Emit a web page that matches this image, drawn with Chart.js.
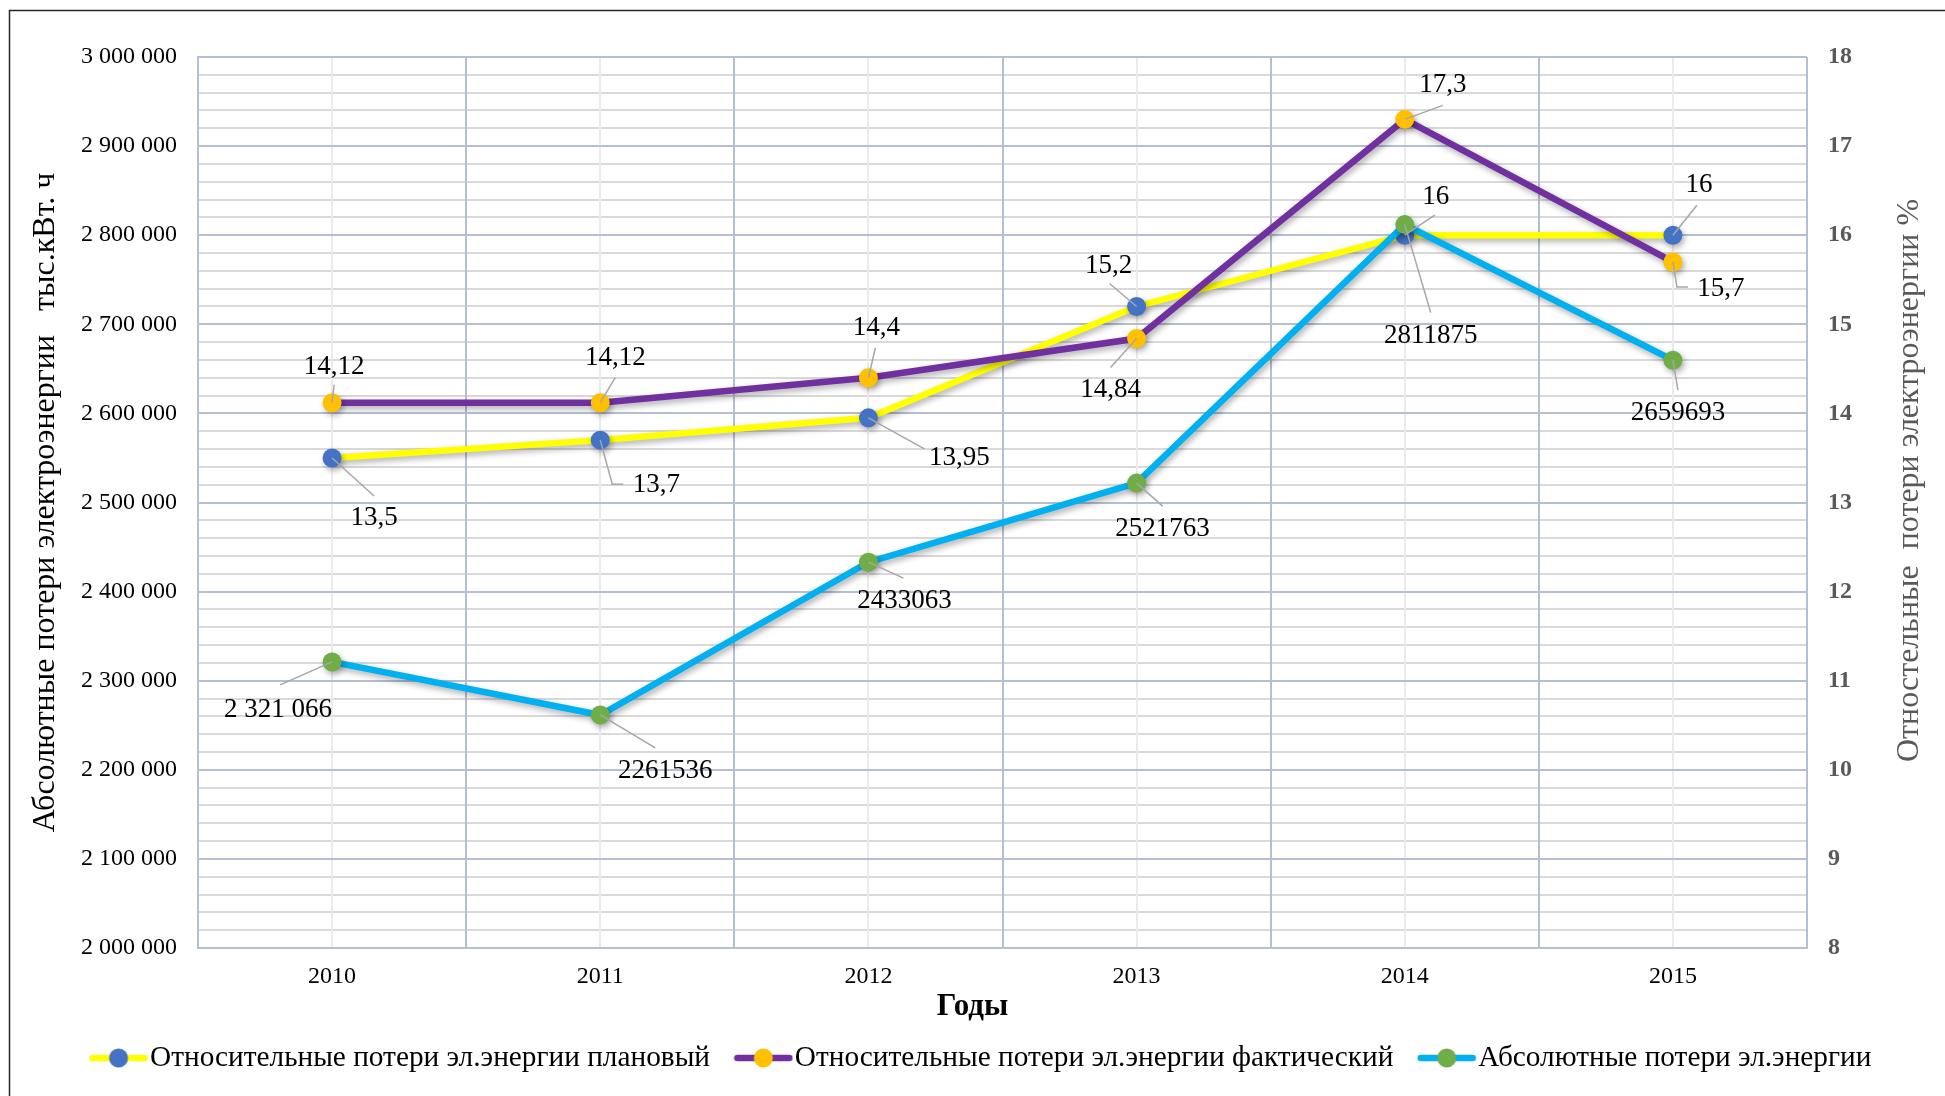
<!DOCTYPE html>
<html><head><meta charset="utf-8">
<script src="https://cdn.jsdelivr.net/npm/chart.js@4.4.0/dist/chart.umd.min.js"></script>
<style>html,body{margin:0;padding:0;background:#fff;overflow:hidden}canvas{display:block}</style>
</head><body>
<canvas id="c" width="1945" height="1096"></canvas>
<script>
// ---- data ----
const years = ['2010', '2011', '2012', '2013', '2014', '2015'];
const planRel = [13.5, 13.7, 13.95, 15.2, 16, 16];
const factRel = [14.12, 14.12, 14.4, 14.84, 17.3, 15.7];
const absLoss = [2321066, 2261536, 2433063, 2521763, 2811875, 2659693];
const seriesNames = ['Относительные потери эл.энергии плановый', 'Относительные потери эл.энергии фактический', 'Абсолютные потери эл.энергии'];
const absAxisMin = 2000000, absAxisMax = 3000000, absAxisStep = 100000, absMinorStep = 20000;
const relAxisMin = 8, relAxisMax = 18, relAxisStep = 1;
const xTitle = 'Годы';
const leftTitle = 'Абсолютные потери электроэнергии\u00A0\u00A0\u00A0тыс.кВт. ч';
const rightTitle = 'Отностельные\u00A0\u00A0потери электроэнергии %';

// ---- label placement (pixel offsets from each point: label centre d, leader polyline l) ----
const planLabelPos = [
  {d:[42,60], l:[[42,38]]}, {d:[56,45], l:[[12,44],[23,44]]}, {d:[91,40], l:[[56,31]]},
  {d:[-28,-41], l:[[-27,-23]]}, {d:[31,-38], l:[[30,-20]]}, {d:[26,-50], l:[[24,-30]]}];
const factLabelPos = [
  {d:[2,-36], l:[[2,-18]]}, {d:[15,-45], l:[[15,-25]]}, {d:[8,-50], l:[[7,-30]]},
  {d:[-26,51], l:[[-26,29]]}, {d:[38,-34], l:[[38,-14]]}, {d:[48,27], l:[[4,25],[15,25]]}];
const absLabelPos = [
  {d:[-54,48], l:[[-52,23]], g:true}, {d:[65,56], l:[[55,33]]}, {d:[36,39], l:[[35,16]]},
  {d:[26,46], l:[[26,23]]}, {d:[26,111], l:[[26,88]]}, {d:[5,53], l:[[5,30]]}];

const FAM = '"Liberation Serif","Times New Roman",serif';
Chart.defaults.font.family = FAM;
const MAJOR = '#b4bfd1', MINOR = '#d9d9d9', CENTER = '#ebebeb';

function groupDigits(v){ return String(v).replace(/\B(?=(\d{3})+(?!\d))/g, '\u00A0'); }
function relText(v){ return String(v).replace('.', ','); }

function makeIcon(lineColor, dotColor){
  const c = document.createElement('canvas'); c.width = 60; c.height = 22;
  const x = c.getContext('2d');
  x.strokeStyle = lineColor; x.lineWidth = 6.5; x.lineCap = 'round';
  x.beginPath(); x.moveTo(4,11); x.lineTo(56,11); x.stroke();
  x.fillStyle = dotColor; x.beginPath(); x.arc(30,11,9.5,0,Math.PI*2); x.fill();
  return c;
}
const icons = [makeIcon('#FFFF00','#4472C4'), makeIcon('#7030A0','#FFC000'), makeIcon('#00B0F0','#70AD47')];

const bgGrid = {
  id:'bgGrid',
  beforeDraw(chart){
    const {ctx, chartArea:a, scales} = chart;
    ctx.save();
    ctx.lineWidth = 2;
    ctx.strokeStyle = MINOR;
    for (let v = absAxisMin; v <= absAxisMax; v += absMinorStep){
      if (v % absAxisStep === 0) continue;
      const y = Math.round(scales.y.getPixelForValue(v));
      ctx.beginPath(); ctx.moveTo(a.left, y); ctx.lineTo(a.right, y); ctx.stroke();
    }
    ctx.strokeStyle = CENTER;
    years.forEach((yr, i) => {
      const x = Math.round(scales.x.getPixelForValue(i));
      ctx.beginPath(); ctx.moveTo(x, a.top); ctx.lineTo(x, a.bottom); ctx.stroke();
    });
    ctx.restore();
  }
};

const shadow = {
  id:'shadow',
  beforeDatasetDraw(chart){ const c = chart.ctx; c.save(); c.shadowColor='rgba(0,0,0,0.33)'; c.shadowBlur=6; c.shadowOffsetX=2; c.shadowOffsetY=3; },
  afterDatasetDraw(chart){ chart.ctx.restore(); }
};

const dataLabels = {
  id:'dataLabels',
  afterDatasetsDraw(chart){
    const ctx = chart.ctx;
    const conf = [planLabelPos, factLabelPos, absLabelPos];
    const fmt = [relText, relText, null];
    ctx.save();
    chart.data.datasets.forEach((ds, di) => {
      const meta = chart.getDatasetMeta(di);
      meta.data.forEach((el, j) => {
        const p = conf[di][j];
        ctx.strokeStyle = '#a6a6a6'; ctx.lineWidth = 1.5;
        ctx.beginPath(); ctx.moveTo(el.x, el.y);
        p.l.forEach(q => ctx.lineTo(el.x + q[0], el.y + q[1]));
        ctx.stroke();
        const v = ds.data[j];
        const txt = fmt[di] ? fmt[di](v) : (p.g ? groupDigits(v) : String(v));
        ctx.fillStyle = '#000'; ctx.font = '27px ' + FAM;
        ctx.textAlign = 'center'; ctx.textBaseline = 'middle';
        ctx.fillText(txt, el.x + p.d[0], el.y + p.d[1]);
      });
    });
    ctx.restore();
  }
};

const frame = {
  id:'frame',
  afterDraw(chart){
    const {ctx, chartArea:a} = chart;
    ctx.save();
    ctx.strokeStyle = '#262626'; ctx.lineWidth = 1.5;
    ctx.beginPath(); ctx.moveTo(9.5, chart.height); ctx.lineTo(9.5, 10.5); ctx.lineTo(chart.width, 10.5); ctx.stroke();
    // x axis title, centred on the whole chart as in the source
    ctx.fillStyle = '#000'; ctx.font = 'bold 31px ' + FAM;
    ctx.textAlign = 'center'; ctx.textBaseline = 'middle';
    ctx.fillText(xTitle, chart.width / 2, a.bottom + 59);
    // right axis title (reads bottom-to-top)
    ctx.fillStyle = '#595959'; ctx.font = '32px ' + FAM;
    ctx.translate(a.right + 103, (a.top + a.bottom) / 2 - 22);
    ctx.rotate(-Math.PI / 2);
    ctx.fillText(rightTitle, 0, 0);
    ctx.restore();
  }
};

new Chart(document.getElementById('c'), {
  type:'line',
  data:{
    labels: years,
    datasets:[
      {label: seriesNames[0], data: planRel, yAxisID:'yR', order:3, borderColor:'#FFFF00', backgroundColor:'#4472C4', pointBackgroundColor:'#4472C4', pointBorderColor:'#4472C4', borderWidth:6.5, pointRadius:9.5, pointBorderWidth:0, tension:0},
      {label: seriesNames[1], data: factRel, yAxisID:'yR', order:2, borderColor:'#7030A0', backgroundColor:'#FFC000', pointBackgroundColor:'#FFC000', pointBorderColor:'#FFC000', borderWidth:6.5, pointRadius:9.5, pointBorderWidth:0, tension:0},
      {label: seriesNames[2], data: absLoss, yAxisID:'y', order:1, borderColor:'#00B0F0', backgroundColor:'#70AD47', pointBackgroundColor:'#70AD47', pointBorderColor:'#70AD47', borderWidth:6.5, pointRadius:9.5, pointBorderWidth:0, tension:0}
    ]
  },
  options:{
    responsive:false, animation:false, devicePixelRatio:1,
    layout:{padding:{top:57, bottom:13.35, left:28, right:0}},
    plugins:{
      tooltip:{enabled:false},
      legend:{
        position:'bottom',
        labels:{
          usePointStyle:true, pointStyleWidth:33.7, padding:36.5, color:'#000',
          font:{size:29.3, family:FAM},
          generateLabels(chart){
            const items = Chart.defaults.plugins.legend.labels.generateLabels(chart);
            items.forEach(it => { it.pointStyle = icons[it.datasetIndex]; });
            items.sort((a,b) => a.datasetIndex - b.datasetIndex);
            return items;
          }
        }
      }
    },
    scales:{
      x:{
        type:'category', offset:true,
        grid:{offset:true, color:MAJOR, lineWidth:2, drawTicks:false},
        border:{color:MAJOR, width:2},
        ticks:{padding:14, color:'#000', font:{size:24, family:FAM}},
        title:{display:false},
        afterFit(s){ s.height = 58.85; }
      },
      y:{
        type:'linear', position:'left', min:absAxisMin, max:absAxisMax,
        ticks:{stepSize:absAxisStep, padding:21, color:'#000', font:{size:24, family:FAM}, callback:v => groupDigits(v)},
        grid:{color:MAJOR, lineWidth:2, drawTicks:false},
        border:{color:MAJOR, width:2},
        title:{display:true, text:leftTitle, color:'#000', font:{size:32, family:FAM, lineHeight:1.1}, padding:{top:0, bottom:0}},
        afterFit(s){ s.width = 170; }
      },
      yR:{
        type:'linear', position:'right', min:relAxisMin, max:relAxisMax,
        ticks:{stepSize:relAxisStep, padding:21, color:'#595959', font:{size:24, weight:'bold', family:FAM}},
        grid:{display:false, drawTicks:false},
        border:{display:false},
        afterFit(s){ s.width = 138; }
      }
    }
  },
  plugins:[bgGrid, shadow, dataLabels, frame]
});
</script>
</body></html>
